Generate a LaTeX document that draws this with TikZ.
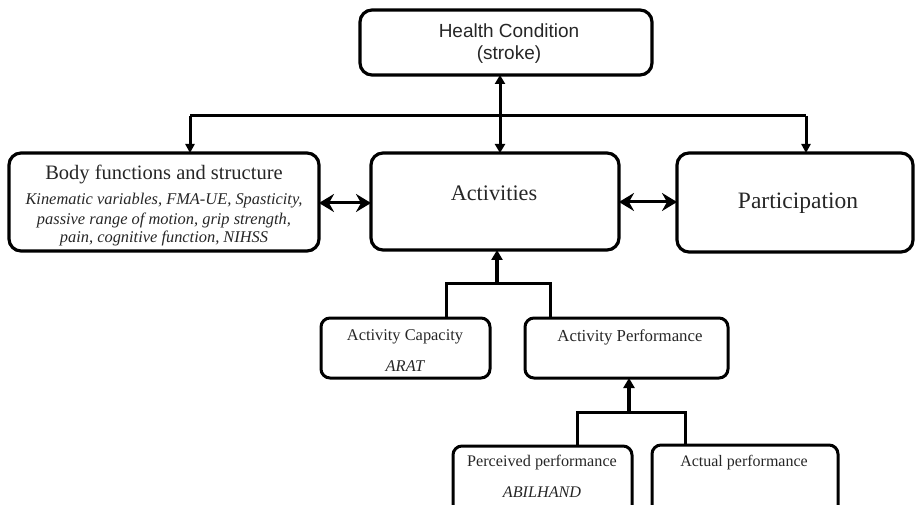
\documentclass[tikz,border=0pt]{standalone}
\usepackage{fontspec}
\setmainfont{Liberation Serif}
\newfontfamily\hfont{Liberation Sans}
\usetikzlibrary{arrows.meta}
\begin{document}
\begin{tikzpicture}[x=1pt,y=-1pt,
  box/.style={draw=black,line width=3.2pt,rounded corners=12pt},
  sbox/.style={draw=black,line width=3pt,rounded corners=9pt},
  conn/.style={line width=3pt},
  small/.style={-{Triangle[length=9pt,width=9pt]}},
  big/.style={{Stealth[length=15pt,width=18pt,inset=5pt]}-{Stealth[length=15pt,width=18pt,inset=5pt]}},
  txt/.style={text=black!85,inner sep=0pt}]
\useasboundingbox (0,0) rectangle (916,505);
% boxes
\draw[box] (360,10) rectangle (652,75);
\draw[box] (9,153) rectangle (319,251);
\draw[box] (371,153) rectangle (619,250);
\draw[box] (677,153) rectangle (913,252);
\draw[sbox] (321,318) rectangle (490,378);
\draw[sbox] (525,318) rectangle (728,378);
\draw[sbox] (453,446) rectangle (632,530);
\draw[sbox] (652,445) rectangle (838,530);
% texts
\node[txt,font=\hfont\fontsize{19}{22}\selectfont] (h1) at (509,31) {Health Condition};
\node[txt,font=\hfont\fontsize{19}{22}\selectfont] (h2) at (509,55) {(stroke)};
\node[txt,font=\fontsize{20.5}{24}\selectfont] (b1) at (164,174) {Body functions and structure};
\node[txt,font=\itshape\fontsize{16.4}{19}\selectfont] (b2) at (164,201) {Kinematic variables, FMA-UE, Spasticity,};
\node[txt,font=\itshape\fontsize{16.4}{19}\selectfont] (b3) at (164,220) {passive range of motion, grip strength,};
\node[txt,font=\itshape\fontsize{16.4}{19}\selectfont] (b4) at (164,238) {pain, cognitive function, NIHSS};
\node[txt,font=\fontsize{22.2}{26}\selectfont] (a1) at (494,193) {Activities};
\node[txt,font=\fontsize{23.5}{28}\selectfont] (p1) at (798,203) {Participation};
\node[txt,font=\fontsize{16.4}{20}\selectfont] (c1) at (405,337) {Activity Capacity};
\node[txt,font=\itshape\fontsize{16.4}{20}\selectfont] (c2) at (405,366) {ARAT};
\node[txt,font=\fontsize{16.8}{20}\selectfont] (f1) at (630,337) {Activity Performance};
\node[txt,font=\fontsize{16.2}{20}\selectfont] (e1) at (542,463) {Perceived performance};
\node[txt,font=\itshape\fontsize{16.2}{20}\selectfont] (e2) at (542,492) {ABILHAND};
\node[txt,font=\fontsize{16}{20}\selectfont] (u1) at (744,463) {Actual performance};
% anchors
\coordinate (hb) at (500,75);
\coordinate (at) at (500,153);
\coordinate (bt) at (190,153);
\coordinate (pt) at (806,153);
\coordinate (ab) at (497,250);
\coordinate (fb) at (629,378);
% connectors
\draw[conn,{Triangle[length=9pt,width=10pt]}-{Triangle[length=9pt,width=10pt]}] (hb) -- (at);
\draw[conn] (190,116) -- (806,116);
\draw[conn,small] (190,116) -- (bt);
\draw[conn,small] (806,116) -- (pt);
\draw[conn,big] (319,203) -- (371,203);
\draw[conn,big] (619,202) -- (677,202);
\draw[line width=4pt,-{Triangle[length=10pt,width=11pt]}] (497,285) -- (ab);
\draw[conn] (446,318) -- (446,284) -- (550,284) -- (550,318);
\draw[line width=3.4pt,-{Triangle[length=10pt,width=11pt]}] (629,413) -- (fb);
\draw[conn] (577,446) -- (577,412) -- (685,412) -- (685,445);
\end{tikzpicture}
\end{document}
